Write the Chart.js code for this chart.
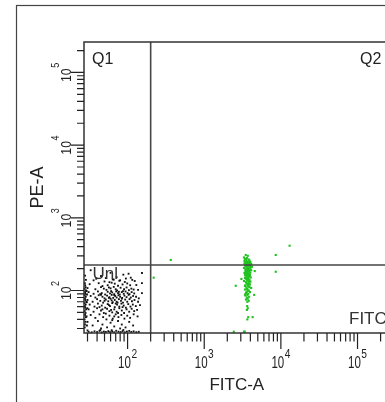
<!DOCTYPE html>
<html><head><meta charset="utf-8">
<style>
html,body{margin:0;padding:0;background:#fff;overflow:hidden;width:385px;height:402px;}
#wrap{position:absolute;left:0;top:0;width:420px;height:420px;}
canvas{display:block;}
</style>
<script src="https://cdn.jsdelivr.net/npm/chart.js@4.4.1/dist/chart.umd.min.js"></script>
</head><body><div id="wrap"><canvas id="c" width="420" height="420" style="width:420px;height:420px"></canvas></div>
<script>
// ---- data ----
const xRange = [27, 262144];
const yRange = [26, 262144];
const majorTicks = [100, 1000, 10000, 100000];
const majorExponents = ['2', '3', '4', '5'];
const gateX = 200;
const gateY = 224;
const quadrantLabels = ['Q1', 'Q2', 'Unl', 'FITC'];
const axisTitles = ['FITC-A', 'PE-A'];

const unstained = [
[27.6,31],[27.8,34],[28.2,37],[27.5,40],[28.6,43],[27.9,46],[28.3,49],[27.6,52],[28.8,55],[28.0,58],[27.7,61],[28.4,64],[27.5,67],[28.9,70],[28.1,74],[27.8,78],[28.5,82],[27.6,86],[28.2,90],[27.9,95],[28.7,100],[27.5,105],[28.3,111],[28.0,118],[27.7,126],[28.6,140],[27.9,160],
[29.5,33],[29.2,44],[29.8,57],[29.4,69],[29.6,88],[29.3,98],
[31,27],[34,26.6],[37,27.4],[40,26.8],[43,27.8],[46,26.5],[49,27.2],[52,26.9],[56,27.6],[59,26.7],[63,27.3],[67,26.6],[71,27.9],[76,27.1],[81,26.8],[86,27.5],[92,26.6],[98,27.2],[105,27.8],[112,26.9],[120,27.4],[130,26.7],[30,28.2],[44,28.5],[62,28.4],[88,28.6],[140,27],
[33,190],[60,175],[88,165],[45,158],[72,152],[103,170],[52,148],[39,145],[66,141],[95,146],[80,138],[110,150],[154,174],
[36,138],[50,133],[64,142],[78,136],[92,131],[115,140],[124,135],[58,130],
[32,122],[42,126],[55,118],[68,124],[75,116],[86,121],[99,125],[108,118],[130,119],[47,115],[62,128],[154,126],
[30,108],[38,104],[45,111],[53,102],[60,107],[66,112],[73,100],[81,109],[90,104],[97,110],[104,101],[112,106],[120,103],[137,102],[49,106],[57,110],[70,104],
[31,95],[36,90],[41,97],[46,92],[51,88],[55,96],[59,91],[63,94],[67,89],[71,97],[75,92],[79,88],[84,95],[89,90],[94,97],[100,92],[106,89],[113,95],[122,91],[154,92],[44,89],[61,98],[77,96],[87,98],
[33,84],[38,80],[42,86],[47,82],[50,78],[54,85],[58,81],[62,87],[65,79],[69,84],[72,80],[76,86],[80,82],[85,79],[91,85],[97,81],[103,87],[110,80],[118,84],[129,82],[140,78],[45,87],[57,79],[67,86],
[30,74],[35,70],[40,76],[44,72],[48,68],[52,75],[56,71],[60,77],[64,69],[68,74],[72,70],[77,76],[82,72],[87,68],[93,75],[99,70],[106,76],[114,71],[123,74],[137,70],[50,72],[62,73],[74,68],[84,77],
[32,64],[37,60],[41,66],[46,62],[51,58],[55,65],[59,61],[63,67],[68,59],[73,64],[78,60],[83,66],[89,62],[95,58],[102,65],[109,60],[117,64],[128,61],[145,63],[43,59],[57,63],[70,66],[86,59],
[31,55],[36,51],[40,57],[45,53],[49,49],[54,56],[58,52],[63,50],[67,55],[72,51],[78,57],[84,53],[90,49],[97,55],[105,51],[113,56],[122,52],[133,54],[47,55],[61,54],[75,49],
[33,46],[38,42],[43,47],[48,43],[53,40],[58,45],[64,41],[70,47],[76,43],[83,46],[91,41],[99,45],[108,42],[120,47],[135,44],[52,48],[67,44],
[30,37],[35,33],[41,38],[47,34],[54,31],[60,36],[67,32],[75,38],[84,34],[94,31],[105,37],[118,33],[45,30],[80,30],[63,39]
];

const stained = [
[3480,308],[3700,300],[3300,285],[3600,280],[3400,272],[3800,268],[3550,262],[3900,258],[3350,255],[3700,250],[4000,246],[3600,243],[3450,240],[3850,238],[3650,235],[4100,232],[3500,229],[3750,226],[3950,222],[3400,220],[3600,217],[3850,214],[4200,212],[3550,209],[3700,206],[3300,204],[4000,201],[3800,198],[3500,195],[3650,192],[4100,190],[3900,187],[3450,185],[3750,182],[3600,179],[4000,176],[3350,174],[3800,171],[3550,168],[3700,165],[3950,162],[3450,160],[3850,157],[3600,154],[4050,151],[3400,149],[3750,146],[3550,143],[3900,140],[3650,137],[3300,135],[4000,132],[3500,129],[3800,126],[3600,124],[3950,121],[3450,118],[3700,116],[3850,113],[3550,110],[4100,108],[3650,105],[3400,103],[3800,100],[3600,97],[3950,95],[3500,92],[3750,90],[3650,87],[3450,85],[3850,82],[3600,80],[3700,77],[3500,75],[3800,72],[3650,70],
[3900,250],[3500,246],[3750,240],[3350,236],[4050,228],[3650,224],[3500,215],[4000,210],[3700,200],[3450,196],[3900,193],[3600,188],[3800,184],[3500,178],[3700,173],[3900,168],[3400,165],[3650,159],[3800,152],[3500,147],[3700,141],[3850,134],[3550,131],[3750,122],[3400,115],[3900,111],[3600,106],[3750,99],[3550,94],[3400,88],
[3640,61],[3700,57],[3600,54],[3750,43],[3650,40],[4280,43],
[2430,27.1],[3300,27.1],[3380,27.1],
[13000,413],[8570,308],[8570,181],[4560,185],[4480,87],[3055,144],[2576,116],[366,263],[219,150]
];

// ---- drawing ----
const FONT = '"Liberation Sans", Arial, sans-serif';
const toPts = arr => arr.map(p => ({x: p[0], y: p[1]}));

function drawXPow(ctx, cx, exp) {
  const sx = 0.72, ssx = 0.85;
  ctx.font = '16px ' + FONT;
  const w10 = ctx.measureText('10').width * sx;
  ctx.font = '12px ' + FONT;
  const wS = ctx.measureText(exp).width * ssx;
  const start = cx - (w10 + wS + 0.5) / 2;
  ctx.save(); ctx.translate(start, 368); ctx.scale(sx, 1);
  ctx.font = '16px ' + FONT; ctx.fillText('10', 0, 0); ctx.restore();
  ctx.save(); ctx.translate(start + w10 + 0.5, 358); ctx.scale(ssx, 1);
  ctx.font = '12px ' + FONT; ctx.fillText(exp, 0, 0); ctx.restore();
}
function drawYPow(ctx, cy, exp) {
  const sx = 0.88, ssx = 0.9;
  ctx.font = '14px ' + FONT;
  const w10 = ctx.measureText('10').width * sx;
  ctx.font = '10px ' + FONT;
  const wS = ctx.measureText(exp).width * ssx;
  const total = w10 + wS + 0.5;
  ctx.save(); ctx.translate(70.5, cy); ctx.rotate(-Math.PI / 2);
  ctx.save(); ctx.translate(-total / 2, 0); ctx.scale(sx, 1);
  ctx.font = '14px ' + FONT; ctx.fillText('10', 0, 0); ctx.restore();
  ctx.save(); ctx.translate(-total / 2 + w10 + 0.5, -12); ctx.scale(ssx, 1);
  ctx.font = '10px ' + FONT; ctx.fillText(exp, 0, 0); ctx.restore();
  ctx.restore();
}

const overlay = {
  id: 'overlay',
  afterDatasetsDraw(chart) {
    const {ctx, chartArea: a, scales: {x, y}} = chart;
    ctx.save();
    // outer frame
    ctx.strokeStyle = '#444'; ctx.lineWidth = 1.2;
    ctx.strokeRect(16.5, 5.5, 600, 600);
    // quadrant gates
    const gx = x.getPixelForValue(gateX), gy = y.getPixelForValue(gateY);
    ctx.strokeStyle = '#454545'; ctx.lineWidth = 1.6;
    ctx.beginPath();
    ctx.moveTo(gx, a.top); ctx.lineTo(gx, a.bottom);
    ctx.moveTo(a.left, gy); ctx.lineTo(a.right, gy);
    ctx.stroke();
    // plot border
    ctx.strokeStyle = '#333'; ctx.lineWidth = 1.5;
    ctx.strokeRect(a.left, a.top, a.right - a.left, a.bottom - a.top);
    // ticks
    ctx.strokeStyle = '#222'; ctx.lineWidth = 1.2;
    ctx.beginPath();
    for (let e = 1; e <= 5; e++) {
      for (let k = 1; k <= 9; k++) {
        const v = k * Math.pow(10, e);
        const major = k === 1;
        if (v >= xRange[0] && v <= xRange[1]) {
          const px = x.getPixelForValue(v);
          ctx.moveTo(px, a.bottom); ctx.lineTo(px, a.bottom + (major ? 16 : 8.5));
        }
        if (v >= yRange[0] && v <= yRange[1]) {
          const py = y.getPixelForValue(v);
          ctx.moveTo(a.left, py); ctx.lineTo(a.left - (major ? 13 : 7), py);
        }
      }
    }
    ctx.stroke();
    // tick labels
    ctx.fillStyle = '#222'; ctx.textBaseline = 'alphabetic'; ctx.textAlign = 'left';
    majorTicks.forEach((v, i) => {
      drawXPow(ctx, x.getPixelForValue(v), majorExponents[i]);
      drawYPow(ctx, y.getPixelForValue(v), majorExponents[i]);
    });
    // quadrant labels
    ctx.fillStyle = '#222';
    ctx.font = '16px ' + FONT;
    ctx.fillText(quadrantLabels[0], a.left + 8, a.top + 22);
    ctx.fillText(quadrantLabels[1], 360, a.top + 22);
    ctx.font = '17px ' + FONT;
    ctx.fillStyle = '#333';
    ctx.fillText(quadrantLabels[2], a.left + 8.5, gy + 14);
    ctx.fillText(quadrantLabels[3], 349, a.bottom - 9.5);
    ctx.restore();
  }
};

new Chart(document.getElementById('c'), {
  type: 'scatter',
  data: {
    datasets: [
      {label: 'Unl', data: toPts(unstained), backgroundColor: '#111', borderWidth: 0,
       pointStyle: 'rect', pointRadius: 1.3, pointHoverRadius: 1.3, clip: false},
      {label: 'FITC', data: toPts(stained), backgroundColor: '#1fc21f', borderWidth: 0,
       pointStyle: 'rect', pointRadius: 1.5, pointHoverRadius: 1.5, clip: false}
    ]
  },
  options: {
    responsive: false,
    animation: false,
    events: [],
    layout: {padding: {left: 16, top: 42, right: 30.4, bottom: 24.8}},
    plugins: {legend: {display: false}, tooltip: {enabled: false}},
    scales: {
      x: {
        type: 'logarithmic', min: xRange[0], max: xRange[1], bounds: 'data',
        grid: {display: false}, border: {display: false}, ticks: {display: false},
        title: {display: true, text: axisTitles[0], color: '#222', padding: {top: 0, bottom: 0},
                font: {family: FONT, size: 17}},
        afterFit: s => { s.height = 62.2; }
      },
      y: {
        type: 'logarithmic', min: yRange[0], max: yRange[1], bounds: 'data',
        grid: {display: false}, border: {display: false}, ticks: {display: false},
        title: {display: true, text: axisTitles[1], color: '#222', padding: {top: 11.5, bottom: 0},
                font: {family: FONT, size: 18}},
        afterFit: s => { s.width = 68; }
      }
    }
  },
  plugins: [overlay]
});
</script>
</body></html>
